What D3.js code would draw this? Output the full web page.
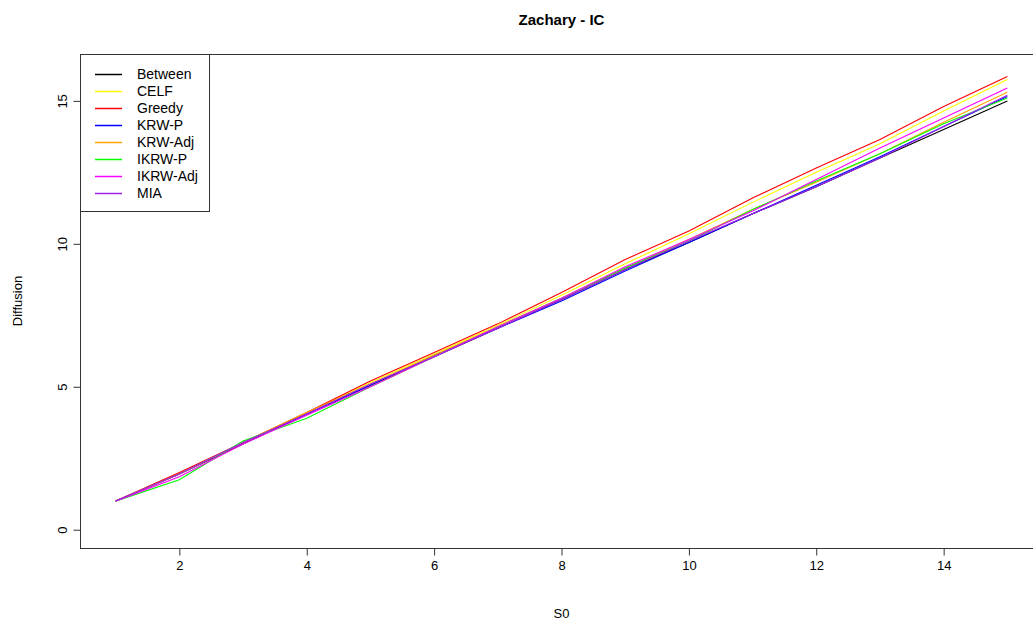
<!DOCTYPE html>
<html>
<head>
<meta charset="utf-8">
<script src="https://cdn.jsdelivr.net/npm/d3@7"></script>
<style>
  body { margin: 0; background: #fff; }
  text { font-family: "Liberation Sans", Arial, sans-serif; fill: #000; }
</style>
</head>
<body>
<div id="chart"></div>
<script>
// x values (seed set size)
var s0 = [1, 2, 3, 4, 5, 6, 7, 8, 9, 10, 11, 12, 13, 14, 15];

// series
var seriesNames = ["Between", "CELF", "Greedy", "KRW-P", "KRW-Adj", "IKRW-P", "IKRW-Adj", "MIA"];
var seriesColors = ["#000000", "#ffff00", "#ff0000", "#0000ff", "#ffa500", "#00ff00", "#ff00ff", "#a020f0"];

var between = [1.0, 1.95, 3.0, 4.05, 5.05, 6.05, 7.05, 8.05, 9.1, 10.05, 11.05, 12.0, 13.0, 14.0, 15.0];
var celf    = [1.0, 1.95, 3.05, 4.1, 5.15, 6.15, 7.15, 8.2, 9.3, 10.35, 11.45, 12.5, 13.5, 14.65, 15.75];
var greedy  = [1.0, 2.0, 3.05, 4.1, 5.2, 6.2, 7.2, 8.3, 9.45, 10.45, 11.6, 12.65, 13.65, 14.8, 15.85];
var krwP    = [1.0, 1.95, 3.05, 4.05, 5.05, 6.1, 7.05, 8.0, 9.05, 10.05, 11.05, 12.05, 13.05, 14.1, 15.15];
var krwAdj  = [1.0, 1.95, 3.05, 4.1, 5.1, 6.1, 7.1, 8.1, 9.15, 10.15, 11.2, 12.15, 13.15, 14.25, 15.3];
var ikrwP   = [1.0, 1.75, 3.1, 3.9, 5.0, 6.05, 7.1, 8.1, 9.15, 10.1, 11.2, 12.2, 13.15, 14.2, 15.1];
var ikrwAdj = [1.0, 1.85, 3.0, 4.0, 5.0, 6.05, 7.1, 8.1, 9.2, 10.15, 11.15, 12.25, 13.35, 14.4, 15.45];
var mia     = [1.0, 1.95, 3.05, 4.05, 5.1, 6.05, 7.05, 8.05, 9.1, 10.1, 11.05, 12.0, 13.0, 14.1, 15.2];

var allSeries = [between, celf, greedy, krwP, krwAdj, ikrwP, ikrwAdj, mia];

var xTicks = [2, 4, 6, 8, 10, 12, 14];
var yTicks = [0, 5, 10, 15];

var width = 1033, height = 626;
// plot region (R style box, right edge falls outside the window)
var plotLeft = 80, plotRight = 1043, plotTop = 54, plotBottom = 548;

var svg = d3.select("#chart").append("svg")
    .attr("width", width)
    .attr("height", height);

// R pads the data range by 4% on each side
var xPad = (15 - 1) * 0.04, yPad = (16 - 0) * 0.04;
var x = d3.scaleLinear().domain([1 - xPad, 15 + xPad]).range([plotLeft, plotRight]);
var y = d3.scaleLinear().domain([0 - yPad, 16 + yPad]).range([plotBottom, plotTop]);

//draw the series
var line = d3.line()
    .x(function(d, i) { return x(s0[i]); })
    .y(function(d) { return y(d); });

svg.append("g")
    .selectAll("path")
    .data(allSeries)
    .enter().append("path")
    .attr("d", line)
    .attr("fill", "none")
    .attr("stroke", function(d, i) { return seriesColors[i]; })
    .attr("stroke-width", 1.1);

//box around the plot
svg.append("rect")
    .attr("x", plotLeft + 0.5)
    .attr("y", plotTop + 0.5)
    .attr("width", plotRight - plotLeft)
    .attr("height", plotBottom - plotTop)
    .attr("fill", "none")
    .attr("stroke", "#333")
    .attr("stroke-width", 1);

//x axis
var xAxis = d3.axisBottom(x).tickValues(xTicks).tickSize(7).tickPadding(5).tickFormat(d3.format("d"));
var gx = svg.append("g")
    .attr("transform", "translate(0," + (plotBottom + 0.5) + ")")
    .call(xAxis);
gx.select(".domain").remove();
gx.selectAll("line").attr("stroke", "#333");
gx.selectAll("text").attr("font-size", 13).attr("font-family", "Liberation Sans, Arial, sans-serif");

//y axis, labels rotated like R
var yAxis = d3.axisLeft(y).tickValues(yTicks).tickSize(7).tickFormat(d3.format("d"));
var gy = svg.append("g")
    .attr("transform", "translate(" + (plotLeft + 0.5) + ",0)")
    .call(yAxis);
gy.select(".domain").remove();
gy.selectAll("line").attr("stroke", "#333");
gy.selectAll("text")
    .attr("font-size", 13)
    .attr("font-family", "Liberation Sans, Arial, sans-serif")
    .attr("x", null)
    .attr("dy", null)
    .attr("text-anchor", "middle")
    .attr("transform", "translate(-14,0) rotate(-90)");

//titles
svg.append("text")
    .attr("x", (plotLeft + plotRight) / 2)
    .attr("y", 25)
    .attr("text-anchor", "middle")
    .attr("font-size", 15)
    .attr("font-weight", "bold")
    .text("Zachary - IC");

svg.append("text")
    .attr("x", (plotLeft + plotRight) / 2)
    .attr("y", 618)
    .attr("text-anchor", "middle")
    .attr("font-size", 13)
    .text("S0");

svg.append("text")
    .attr("transform", "translate(22," + ((plotTop + plotBottom) / 2) + ") rotate(-90)")
    .attr("text-anchor", "middle")
    .attr("font-size", 13)
    .text("Diffusion");

//legend
var legend = svg.append("g");
legend.append("rect")
    .attr("x", plotLeft + 0.5)
    .attr("y", plotTop + 0.5)
    .attr("width", 129)
    .attr("height", 157)
    .attr("fill", "#fff")
    .attr("stroke", "#333");

var rows = legend.selectAll("g.row")
    .data(seriesNames)
    .enter().append("g")
    .attr("class", "row")
    .attr("transform", function(d, i) { return "translate(0," + (74 + i * 17) + ")"; });

rows.append("line")
    .attr("x1", 95).attr("x2", 122)
    .attr("y1", 0.5).attr("y2", 0.5)
    .attr("stroke-width", 1.5)
    .attr("stroke", function(d) { return seriesColors[seriesNames.indexOf(d)]; });

rows.append("text")
    .attr("x", 137)
    .attr("y", 5)
    .attr("font-size", 14)
    .text(function(d) { return d; });
</script>
</body>
</html>
